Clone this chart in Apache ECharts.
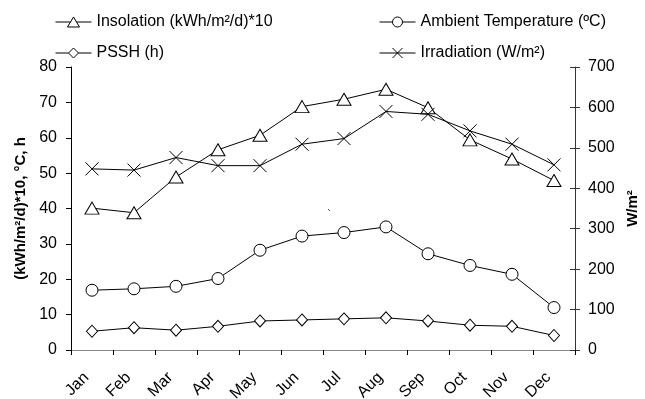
<!DOCTYPE html>
<html>
<head>
<meta charset="utf-8">
<script src="https://cdn.jsdelivr.net/npm/echarts@6/dist/echarts.min.js"></script>
<style>
  html, body { margin: 0; padding: 0; background: #fff; }
  #chart { width: 645px; height: 399px; }
</style>
</head>
<body>
<div id="chart"></div>
<script>
// Monthly solar and climate figures
const months = ['Jan', 'Feb', 'Mar', 'Apr', 'May', 'Jun', 'Jul', 'Aug', 'Sep', 'Oct', 'Nov', 'Dec'];
const insolation = [40.1, 38.8, 48.9, 56.6, 60.7, 68.8, 70.9, 73.7, 68.5, 59.4, 54.0, 47.9];   // (kWh/m²/d)*10
const ambientTemp = [16.9, 17.3, 18.0, 20.2, 28.2, 32.2, 33.2, 34.8, 27.2, 23.9, 21.4, 12.0];  // °C
const pssh = [5.3, 6.3, 5.6, 6.7, 8.2, 8.5, 8.8, 9.1, 8.2, 7.0, 6.7, 4.1];                       // h
const irradiation = [448, 445, 476, 456, 456, 509, 523, 590, 583, 542, 509, 458];                 // W/m²
const leftTicks = { min: 0, max: 80, interval: 10 };
const rightTicks = { min: 0, max: 700, interval: 100 };

const FONT = 'Liberation Sans, Arial, sans-serif';
const INK = '#000';

const chart = echarts.init(document.getElementById('chart'), null, { renderer: 'canvas' });

// Hollow markers drawn with a 1px outline
const crossSymbol = 'path://M0,0L10,10M10,0L0,10';

// Legend keys: a thin line broken by the series marker (36 x 10 box)
const keyTriangle = 'path://M0,5L15,5M18,0L24,10L12,10ZM21,5L36,5';
const keyCircle = 'path://M0,5L13,5M13,5A5,5,0,1,1,23,5A5,5,0,1,1,13,5ZM23,5L36,5';
const keyDiamond = 'path://M0,5L13,5M18,0L23,5L18,10L13,5ZM23,5L36,5';
const keyCross = 'path://M0,5L36,5M13,0L23,10M23,0L13,10';

function lineSeries(name, data, symbol, size, yAxisIndex) {
  return {
    name: name,
    type: 'line',
    data: data,
    yAxisIndex: yAxisIndex,
    symbol: symbol,
    symbolSize: size,
    showAllSymbol: true,
    animation: false,
    lineStyle: { color: INK, width: 1 },
    itemStyle: { color: '#fff', borderColor: INK, borderWidth: 1 },
    emphasis: { disabled: true }
  };
}

const legendBase = {
  orient: 'vertical',
  top: 9,
  itemWidth: 36, itemHeight: 10, itemGap: 15,
  symbolKeepAspect: true,
  itemStyle: { color: '#fff', borderColor: INK, borderWidth: 1 },
  textStyle: { fontFamily: FONT, fontSize: 16, color: INK }
};

chart.setOption({
  backgroundColor: '#fff',
  animation: false,
  grid: { left: 71, right: 70, top: 67, bottom: 49, outerBoundsMode: 'none', containLabel: false },
  legend: [
    Object.assign({}, legendBase, {
      data: [
        { name: 'Insolation (kWh/m²/d)*10', icon: keyTriangle },
        { name: 'PSSH (h)', icon: keyDiamond }
      ],
      left: 50
    }),
    Object.assign({}, legendBase, {
      data: [
        { name: 'Ambient Temperature (ºC)', icon: keyCircle },
        { name: 'Irradiation (W/m²)', icon: keyCross }
      ],
      left: 374
    })
  ],
  xAxis: [
    {
      type: 'category',
      data: months,
      boundaryGap: true,
      axisLine: { lineStyle: { color: INK, width: 1 } },
      axisTick: { show: true, length: 5, lineStyle: { color: INK } },
      axisLabel: {
        rotate: 45, margin: 8, verticalAlign: 'top', padding: [0, 16, 0, 0],
        fontFamily: FONT, fontSize: 16, color: INK
      }
    },
    {
      // frame line along the top of the plot
      type: 'category',
      data: months,
      position: 'top',
      axisLine: { lineStyle: { color: '#888', width: 1 } },
      axisTick: { show: false },
      axisLabel: { show: false }
    }
  ],
  yAxis: [
    {
      type: 'value',
      position: 'left',
      min: leftTicks.min, max: leftTicks.max, interval: leftTicks.interval,
      name: '(kWh/m²/d)*10, °C, h',
      nameLocation: 'middle',
      nameRotate: 90,
      nameGap: 42,
      nameTextStyle: { fontFamily: FONT, fontSize: 15, fontWeight: 'bold', color: INK },
      axisLine: { show: true, lineStyle: { color: INK, width: 1 } },
      axisTick: { show: true, length: 5, lineStyle: { color: INK } },
      axisLabel: { margin: 14, fontFamily: FONT, fontSize: 16, color: INK },
      splitLine: { show: false }
    },
    {
      type: 'value',
      position: 'right',
      min: rightTicks.min, max: rightTicks.max, interval: rightTicks.interval,
      name: 'W/m²',
      nameLocation: 'middle',
      nameRotate: 90,
      nameGap: 50,
      nameTextStyle: { fontFamily: FONT, fontSize: 15, fontWeight: 'bold', color: INK },
      axisLine: { show: true, lineStyle: { color: '#333', width: 1 } },
      axisTick: { show: true, length: 5, lineStyle: { color: '#333' } },
      axisLabel: { margin: 13, fontFamily: FONT, fontSize: 16, color: INK },
      splitLine: { show: false }
    },
    {
      // inner half of the crossing ticks on the right axis
      type: 'value',
      position: 'right',
      min: rightTicks.min, max: rightTicks.max, interval: rightTicks.interval,
      axisLine: { show: false },
      axisTick: { show: true, inside: true, length: 5, lineStyle: { color: '#333' } },
      axisLabel: { show: false },
      splitLine: { show: false }
    }
  ],
  series: [
    lineSeries('Insolation (kWh/m²/d)*10', insolation, 'triangle', [14, 12], 0),
    lineSeries('Ambient Temperature (ºC)', ambientTemp, 'circle', 12, 0),
    lineSeries('PSSH (h)', pssh, 'diamond', [11, 12], 0),
    lineSeries('Irradiation (W/m²)', irradiation, crossSymbol, 13, 1)
  ],
  graphic: [
    {
      type: 'line',
      shape: { x1: 328, y1: 209, x2: 330, y2: 211 },
      style: { stroke: '#555', lineWidth: 1 },
      silent: true
    }
  ]
});
</script>
</body>
</html>
